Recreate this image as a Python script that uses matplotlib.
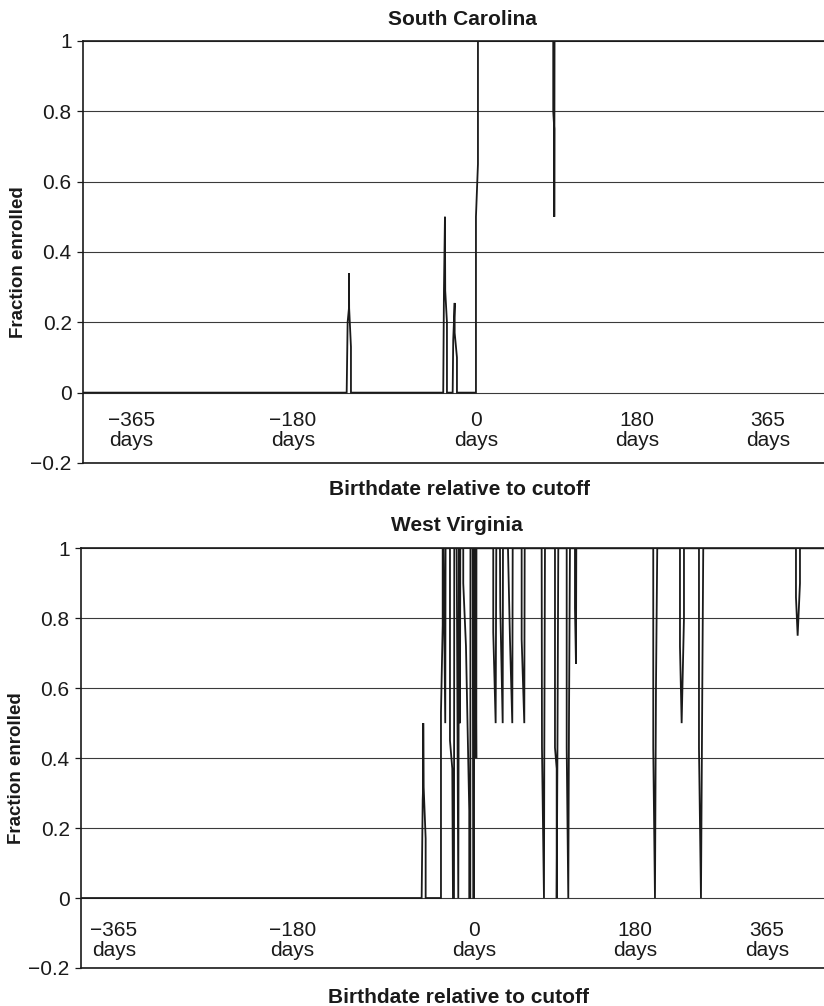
import matplotlib
matplotlib.use("Agg")
import matplotlib.pyplot as plt

plt.rcParams['font.family'] = ['Liberation Sans', 'DejaVu Sans']

# South Carolina: birthdate (days relative to cutoff) vs fraction enrolled
sc_days = [-490, -161.6, -160.4, -158.75, -158.75, -158.5, -156.25, -156.25,
           -40.9, -40, -38.75, -38.4, -36.25, -36.25,
           -29.1, -28.4, -26.6, -26.6, -23.75, -23.75,
           0, 0, 2.5, 2.5,
           96.6, 96.6, 97.9, 97.9, 98.25,
           445]
sc_frac = [0, 0, 0.2, 0.24, 0.34, 0.24, 0.13, 0,
           0, 0.29, 0.5, 0.29, 0.2, 0,
           0, 0.15, 0.255, 0.17, 0.1, 0,
           0, 0.5, 0.65, 1,
           1, 0.8, 0.75, 0.5, 1,
           1]

# West Virginia
wv_days = [-490, -65.4, -64.1, -63.4, -63.4, -63.1, -60.4, -60.4,
           -41.25, -41.25, -39.1, -39.1, -38.1, -35.9, -35.5,
           -30, -30, -27.1, -26.25, -25, -24.6,
           -21.6, -19.6, -18.75, -17.5, -17.1,
           -13.4, -13.4, -10, -5.9, -5.9, -4.6, -4.4,
           -1.6, -0.9, 0, 0.4,
           1.6, 2.9, 3.1,
           24.1, 24.1, 27.1, 27.9,
           32.5, 32.9, 35.9, 36.25,
           42.5, 45, 47.9, 48.4,
           59.6, 59.6, 62.9, 63.4,
           84.6, 85, 87.5, 87.9, 88.75,
           101.25, 101.25, 103.4, 103.4, 104.4, 105.4,
           115.9, 115.9, 117.9, 118.75, 120,
           126.25, 126.25, 127.5, 127.9,
           224.1, 224.1, 226.25, 227.5, 229.1,
           257.5, 257.5, 259.6, 262.5, 262.5,
           281.25, 281.25, 283.75, 285.4, 286.6,
           402.5, 402.5, 404.6, 407.5, 407.5,
           445]
wv_frac = [0, 0, 0.28, 0.33, 0.5, 0.33, 0.17, 0,
           0, 0.53, 0.78, 1, 1, 0.5, 1,
           1, 0.45, 0.37, 0, 0, 1,
           1, 0, 1, 0.5, 1,
           1, 0.9, 0.72, 0.25, 0, 0, 1,
           1, 0, 0, 1,
           1, 0.4, 1,
           1, 0.76, 0.5, 1,
           1, 0.83, 0.5, 1,
           1, 0.74, 0.5, 1,
           1, 0.74, 0.5, 1,
           1, 0.43, 0, 0.4, 1,
           1, 0.43, 0.37, 0, 0.45, 1,
           1, 0.43, 0, 0.5, 1,
           1, 0.83, 0.67, 1,
           1, 0.43, 0, 0.6, 1,
           1, 0.72, 0.5, 0.8, 1,
           1, 0.43, 0, 0.6, 1,
           1, 0.86, 0.75, 0.9, 1,
           1]

x_labels = ['\u2212365\ndays', '\u2212180\ndays', '0\ndays', '180\ndays', '365\ndays']
y_ticks = [-0.2, 0, 0.2, 0.4, 0.6, 0.8, 1]
y_labels = ['\u22120.2', '0', '0.2', '0.4', '0.6', '0.8', '1']

panels = [
    dict(title='South Carolina', days=sc_days, frac=sc_frac,
         rect=[0.1013, 0.5398, 0.9064, 0.4195],
         label_x=[-431, -229, 0, 201, 365], label_y=-0.107,
         title_xy=(0.561, 0.9752), xlab_xy=(0.558, 0.5080)),
    dict(title='West Virginia', days=wv_days, frac=wv_frac,
         rect=[0.0989, 0.0378, 0.9064, 0.4172],
         label_x=[-450, -227, 0, 201, 366], label_y=-0.121,
         title_xy=(0.555, 0.4722), xlab_xy=(0.557, 0.0030)),
]

fig = plt.figure(figsize=(8.24, 10.06), dpi=100)

for p in panels:
    ax = fig.add_axes(p['rect'])
    ax.set_xlim(-490.6, 443)
    ax.set_ylim(-0.2, 1)

    ax.yaxis.grid(True, color='#3a3a3a', linewidth=0.8)
    ax.set_axisbelow(True)

    ax.plot(p['days'], p['frac'], color='#1a1a1a', linewidth=1.3,
            solid_joinstyle='miter', zorder=3)

    for s in ['left', 'top', 'bottom']:
        ax.spines[s].set_linewidth(1.2)
        ax.spines[s].set_color('#1a1a1a')
    ax.spines['right'].set_visible(False)

    ax.set_xticks([])
    ax.set_yticks(y_ticks)
    ax.set_yticklabels(y_labels)
    ax.tick_params(axis='y', direction='out', length=4.5, width=0.9,
                   pad=4, labelsize=15, colors='#1a1a1a')

    for xv, lab in zip(p['label_x'], x_labels):
        ax.text(xv, p['label_y'], lab, ha='center', va='center',
                fontsize=15, linespacing=1.05, color='#1a1a1a')

    ax.set_ylabel('Fraction enrolled', fontsize=13.5, fontweight='bold',
                  color='#1a1a1a')
    ax.yaxis.set_label_coords(-0.076, 0.476)

    fig.text(p['title_xy'][0], p['title_xy'][1], p['title'], ha='center',
             va='baseline', fontsize=15, fontweight='bold', color='#1a1a1a')
    fig.text(p['xlab_xy'][0], p['xlab_xy'][1], 'Birthdate relative to cutoff',
             ha='center', va='baseline', fontsize=15, fontweight='bold',
             color='#1a1a1a')

fig.savefig('out.png', dpi=100)
